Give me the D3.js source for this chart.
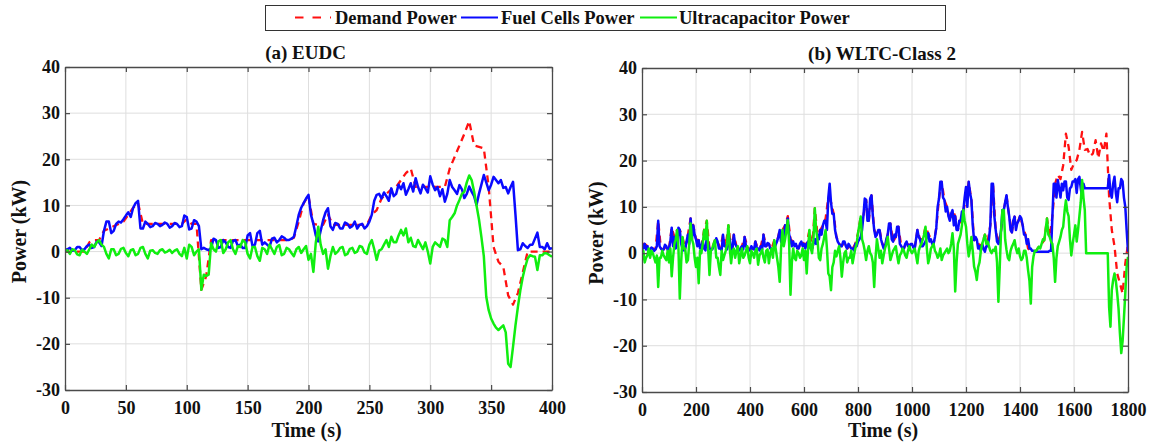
<!DOCTYPE html>
<html>
<head>
<meta charset="utf-8">
<script src="https://cdn.jsdelivr.net/npm/d3@7"></script>
<style>
  body { margin: 0; background: #fff; }
  svg text { font-family: "Liberation Serif", "Times New Roman", serif; font-weight: bold; fill: #111; }
</style>
</head>
<body>
<svg id="chart" width="1164" height="448"></svg>
<script>
// ---- Data (power in kW) -------------------------------------------------
// EUDC cycle, 0 .. 400 s
const eudcDemandStep = 4;   // s between demand samples
const eudcDemand = [
  0, 0, 0, 0, 0, 2.0, 2.5, 2.5, 4.5, 5.0,
  5.5, 6.0, 6.5, 8.0, 9.5, 10.5, 6.0, 6.0, 6.0, 6.0,
  6.0, 6.0, 6.0, 6.0, 6.0, 7.0, 6.0, 6.0, -8.3, -5.3,
  2.5, 2.5, 2.5, 2.5, 2.5, 2.5, 2.5, 2.5, 2.5, 2.5,
  2.5, 2.5, 2.5, 2.5, 2.5, 2.5, 2.5, 3.0, 6.5, 10.5,
  12.0, 6.0, 5.8, 5.8, 8.0, 5.8, 5.8, 5.8, 5.8, 5.8,
  5.8, 5.8, 5.8, 8.0, 9.0, 11.5, 12.5, 13.5, 14.0, 15.5,
  17.0, 18.0, 14.0, 14.0, 14.0, 14.0, 14.0, 14.0, 14.0, 18.0,
  20.5, 23.0, 25.5, 28.3, 23.0, 22.7, 22.4, 14.0, 1.0, -2.2,
  -3.3, -9.5, -11.5, -9.0, -4.5, 0, 0, 0, 0, 0,
  0
];
const eudcSourceStep = 2;   // s between fuel cell / ultracapacitor samples
const eudcFuelCell = [
  0.3, 0.5, 0.8, 0.2, 0.3, 1.0, 1.0, 0.3, 0.5, 1.2,
  1.5, 0.8, 1.0, 2.2, 2.0, 1.2, 4.5, 6.5, 6.5, 4.0,
  4.5, 6.0, 6.5, 6.3, 7.0, 7.8, 8.5, 7.5, 9.5, 10.5,
  11.0, 5.0, 5.0, 6.5, 6.0, 5.3, 5.5, 6.2, 6.0, 5.5,
  5.8, 6.3, 6.0, 5.2, 5.5, 6.2, 6.0, 5.3, 5.5, 7.8,
  7.5, 4.8, 5.0, 6.8, 6.5, 5.5, 0.5, 0.8, 0.5, 0.3,
  0.8, 2.8, 2.5, 0.8, 1.0, 2.5, 2.0, 1.0, 0.8, 2.3,
  2.5, 1.2, 1.5, 0.8, 0.8, 3.5, 4.0, 1.2, 1.5, 4.0,
  4.5, 1.5, 2.0, 1.5, 1.0, 2.8, 3.0, 2.0, 2.5, 3.3,
  3.0, 2.5, 2.5, 2.8, 3.2, 5.5, 8.0, 9.5, 10.5, 11.5,
  12.3, 8.0, 6.0, 3.5, 2.2, 4.5, 6.8, 8.5, 9.4, 5.5,
  4.7, 6.2, 6.0, 5.0, 5.0, 6.3, 6.0, 5.2, 5.5, 6.5,
  5.0, 5.8, 6.0, 5.0, 5.5, 6.5, 8.0, 11.0, 12.3, 12.5,
  11.5, 12.8, 12.0, 11.0, 13.7, 12.0, 12.5, 14.5, 13.5, 14.8,
  12.3, 13.5, 14.8, 13.0, 15.9, 14.0, 12.6, 14.5, 13.7, 12.8,
  16.3, 14.5, 13.3, 14.0, 12.0, 13.5, 10.8, 12.5, 15.5, 14.0,
  13.3, 12.5, 14.4, 13.5, 11.6, 12.5, 14.1, 13.0, 12.0, 10.1,
  12.5, 14.5, 16.6, 15.0, 13.3, 14.5, 16.2, 15.5, 14.8, 15.5,
  13.8, 14.0, 12.6, 14.0, 15.1, 8.0, 0.3, 0.5, 1.8, 1.2,
  0.8, 1.5, 1.5, 2.8, 4.1, 1.0, 1.0, 0.5, 1.8, 0.6,
  0.7
];
const eudcUltracap = [
  0, 0.3, -0.5, 0.5, 0.3, -0.6, -0.8, 0.4, 0, -0.5,
  0.5, 1.5, 1.0, 2.0, 2.5, 1.5, 1.0, -0.5, -1.5, 0.5,
  0.5, -0.8, -0.5, 0.6, 0.8, -0.3, -1.0, 0.3, 0.5, -0.8,
  -0.5, 0.8, 1.0, -0.5, -1.5, 0.2, 0.3, -0.3, -0.5, 0.3,
  0.5, -0.2, 0, 0.4, -0.3, 0.2, 0.5, -0.5, -1.0, 0.8,
  -1.5, 1.5, 1.0, -0.8, 0, 0.5, -8.3, -5.0, -5.3, -5.0,
  1.8, 0.5, 0, 2.2, 2.5, -0.3, 0.5, 2.0, 2.5, 0.5,
  -0.5, 1.2, 1.0, 2.5, 2.0, -0.5, -1.5, 1.0, 1.0, -1.0,
  -2.0, 0.8, 0.5, -0.5, 1.5, 0.5, -0.5, 1.0, 1.4, -0.8,
  -0.5, 0.8, 0.5, -0.3, -1.0, 0.5, 1.0, -0.3, 0.5, 1.2,
  -1.8, -0.5, -4.4, 2.0, 5.4, 1.5, -0.5, 0.5, -3.7, -1.0,
  1.0, -0.5, 0, 0.8, 1.0, -0.8, -0.5, 0.6, 0.8, -0.3,
  0, 1.2, 1.0, -0.2, -0.5, 1.5, 2.5, 0.5, -1.8, 0.2,
  0.5, 1.5, 2.5, 1.0, 3.2, 2.0, 2.0, 3.5, 4.7, 3.5,
  5.0, 2.0, 3.0, 1.2, 1.0, 2.5, 1.5, 0.5, 2.0, 0,
  -2.6, 1.0, 2.0, 1.5, 1.0, 2.8, 2.5, 1.0, 6.8, 7.5,
  8.3, 10.0, 11.2, 12.5, 13.0, 15.0, 16.5, 15.5, 13.0, 10.0,
  7.0, 3.2, -1.0, -9.8, -12.7, -14.5, -15.6, -16.5, -17.0, -16.5,
  -16.0, -17.5, -24.3, -25.0, -20.6, -16.0, -12.0, -8.4, -5.5, -3.3,
  -1.5, -0.8, -1.0, -1.1, -4.0, -0.8, -0.8, -0.3, -0.4, -0.8,
  -1.1
];

// WLTC Class 2 cycle, 0 .. 1800 s
const wltcDemandStep = 10;
const wltcDemand = [
  2.0, 2.0, 1.5, 0.8, 1.0, 0.8, 7.0, 1.0, 0.8, 1.5,
  1.0, 5.5, 3.5, 5.0, 5.0, 3.5, 1.0, 4.0, 7.5, 6.0,
  3.0, 2.8, 1.5, 5.0, 7.0, 1.0, 1.0, 2.8, 2.5, 1.0,
  4.0, 1.5, 6.0, 1.0, 4.0, 1.5, 0.6, 1.5, 3.5, 1.5,
  0.6, 1.0, 2.5, 1.0, 1.5, 4.0, 1.5, 2.0, 1.0, 2.8,
  2.5, 5.0, 5.0, 6.0, 8.0, 3.0, 2.5, 2.0, 1.0, 2.5,
  2.0, 2.0, 5.0, 1.0, 9.7, 4.0, 5.0, 6.0, 7.5, 12.0,
  11.0, 8.5, 3.5, 2.0, 1.5, 2.5, 1.0, 1.5, 1.0, 2.0,
  4.3, 7.9, 8.0, 11.5, 7.0, 12.5, 5.0, 4.0, 5.0, 2.0,
  1.5, 4.0, 6.4, 2.5, 3.5, 5.7, 1.5, 1.0, 2.5, 1.5,
  2.0, 1.0, 5.0, 3.0, 3.0, 5.7, 4.3, 3.0, 2.0, 5.5,
  11.8, 15.4, 11.5, 10.0, 7.0, 9.3, 8.0, 5.0, 7.0, 9.3,
  11.4, 15.4, 11.5, 2.8, 3.0, 1.5, 2.0, 4.0, 2.5, 6.0,
  15.0, 5.0, 2.0, 5.0, 9.3, 12.5, 8.0, 4.5, 7.9, 6.5,
  8.0, 6.0, 4.0, 1.0, 0.5, 0.5, 0.5, 1.4, 2.0, 2.8,
  7.5, 3.5, 8.0, 15.0, 16.9, 16.0, 19.0, 25.8, 23.0, 18.0,
  19.4, 20.1, 22.3, 26.2, 22.3, 22.5, 21.0, 21.5, 24.4, 20.5,
  23.7, 22.0, 25.8, 12.2, 5.0, 1.5, -4.4, -6.5, -8.7, -2.2,
  2.0
];
const wltcSourceStep = 5;
const wltcFuelCell = [
  2.0, 1.0, 2.0, 0.8, 1.5, 0.6, 0.8, 1.2, 1.0, 0.5, 0.8, 1.5, 7.0, 1.5, 1.0, 0.6, 0.8, 1.8, 1.5, 0.7,
  1.0, 2.5, 5.5, 1.5, 3.5, 1.0, 2.0, 5.5, 5.0, 2.0, 1.0, 0.6, 1.0, 2.5, 4.0, 2.0, 7.5, 3.0, 6.0, 4.0,
  3.0, 1.5, 2.8, 1.0, 1.5, 2.5, 1.0, 0.6, 3.5, 2.0, 1.0, 0.7, 0.8, 1.5, 2.0, 3.2, 2.5, 1.0, 1.0, 0.6,
  4.0, 1.5, 1.5, 0.8, 2.0, 3.0, 1.0, 0.6, 4.0, 2.0, 1.5, 0.8, 0.6, 1.0, 1.5, 0.8, 3.5, 1.5, 1.0, 0.6,
  0.6, 1.5, 1.0, 0.8, 2.5, 1.2, 1.0, 0.6, 1.5, 0.8, 4.0, 1.5, 1.5, 2.2, 2.0, 1.0, 1.0, 0.7, 1.0, 1.8,
  2.5, 3.5, 5.0, 2.5, 2.0, 3.0, 6.0, 5.0, 7.5, 4.0, 3.0, 1.5, 2.5, 1.5, 2.0, 1.0, 1.0, 2.0, 2.5, 1.5,
  2.0, 1.0, 2.0, 2.5, 1.5, 1.0, 1.0, 2.0, 3.0, 2.0, 4.0, 3.0, 5.0, 4.0, 6.0, 7.0, 7.0, 5.0, 12.0, 15.0,
  11.0, 8.5, 8.5, 5.0, 3.5, 2.5, 2.0, 1.5, 1.5, 2.5, 2.5, 1.5, 1.0, 2.0, 1.5, 1.0, 1.0, 0.6, 2.0, 1.5,
  2.5, 3.0, 3.5, 5.0, 8.0, 11.8, 11.5, 7.0, 7.0, 11.8, 12.5, 8.0, 5.0, 3.5, 4.0, 5.0, 5.0, 3.0, 2.0, 1.0,
  1.5, 3.0, 4.0, 6.4, 6.4, 3.0, 2.5, 4.0, 3.5, 5.7, 5.7, 2.0, 1.5, 1.0, 1.0, 2.0, 2.5, 1.5, 1.5, 2.0,
  2.0, 1.2, 1.0, 3.0, 5.0, 3.5, 3.0, 1.5, 1.5, 2.0, 2.5, 3.5, 4.3, 2.5, 3.0, 2.0, 2.0, 3.5, 5.5, 10.0,
  11.8, 15.4, 15.4, 12.0, 11.5, 9.0, 10.0, 8.0, 7.0, 8.5, 9.3, 6.0, 8.0, 5.0, 5.0, 7.0, 7.0, 9.0, 9.0, 12.0,
  14.3, 10.0, 15.4, 13.0, 11.5, 6.0, 2.8, 3.5, 3.0, 1.0, 1.5, 0.5, 2.0, 1.0, 0.3, 1.5, 1.5, 3.0, 6.0, 15.0,
  15.0, 8.0, 5.0, 2.5, 2.0, 3.0, 5.0, 9.3, 9.3, 11.0, 12.5, 10.0, 8.0, 5.0, 4.5, 7.0, 7.9, 5.0, 6.5, 7.0,
  8.0, 7.5, 6.0, 4.0, 4.0, 2.0, 3.0, 1.0, 1.0, 0.5, 0.5, 0.3, 0.3, 0.3, 0.3, 0.3, 0.3, 0.3, 0.3, 0.3,
  0.3, 0.3, 0.5, 0.5, 8.0, 15.0, 15.0, 12.0, 15.8, 14.0, 12.0, 15.0, 13.6, 15.5, 15.5, 12.0, 11.5, 14.0, 14.3, 15.5,
  15.5, 16.0, 13.0, 16.0, 16.5, 14.0, 12.0, 15.0, 14.0, 14.0, 14.0, 14.0, 14.0, 14.0, 14.0, 14.0, 14.0, 14.0, 14.0, 14.0,
  14.0, 14.0, 14.0, 14.0, 14.0, 14.0, 16.9, 13.0, 12.0, 15.0, 16.5, 13.0, 11.0, 14.0, 14.0, 16.0, 15.5, 12.0, 10.0, 5.0,
  0.3
];
const wltcUltracap = [
  -1.5, 0.5, -2.0, -1.0, -0.5, 1.0, -1.0, 0.5, 0, -1.0, -2.0, -0.5, -7.3, -1.0, -1.0, 0.5, -0.5, -1.0, -1.5, 0.5,
  -2.0, 1.0, -5.0, -1.0, 2.0, 3.0, 5.0, 1.0, -9.8, -2.0, 3.5, 1.0, 1.0, -2.0, -1.5, 2.0, 6.4, 3.0, 2.0, -1.0,
  -3.0, -1.0, -6.5, 0.5, 0, 2.0, 5.0, 3.0, 7.0, 1.0, -4.7, 0.5, 1.0, 2.0, 2.8, -1.0, -1.0, -3.0, -4.7, 0.5,
  -1.5, -0.5, 0.5, 2.0, 6.0, 1.0, -2.2, 0.5, 1.0, -1.0, 0.5, 1.5, -2.2, -0.5, 1.0, -1.0, -0.5, 0.5, 1.5, -1.0,
  -2.2, 0.5, 0, -1.0, 0.5, 1.0, -2.5, -0.5, 0, 0.8, -1.0, -2.0, 0.5, 0.8, -2.2, 0, 1.0, -1.0, 2.8, 1.0,
  -1.0, -3.0, -6.2, 1.0, 5.0, 1.5, 3.0, 5.0, 7.1, 2.0, -9.0, -2.0, 1.0, -1.0, -1.5, 0.5, 0, -1.0, -0.5, 1.0,
  -1.5, 0.5, -4.4, 1.0, 5.0, 1.0, 0, 3.0, 9.7, 5.0, 3.0, -1.0, -1.5, 1.0, 2.0, 3.5, 5.0, 1.0, -4.4, -5.0,
  -8.0, -3.0, -2.0, 0.5, -0.7, 0.5, 1.5, -1.0, -5.1, -2.0, 0, 0.5, -2.0, -1.0, -1.0, 0.5, -2.2, -0.5, 1.0, 2.0,
  4.3, 6.0, 7.9, 3.0, 2.0, 0.5, -1.5, 0.5, 1.5, 0, -0.5, -2.0, -7.3, -1.0, 3.0, 1.0, -1.0, 0.5, -2.2, -0.5,
  1.0, 2.0, 3.5, 1.0, -1.5, -0.5, 0.5, 1.0, 1.5, -0.5, -2.2, -0.5, 0, 1.0, 0.5, -0.5, -1.0, 0.5, 1.5, 0.5,
  0, 0.5, 1.0, -0.5, -2.2, 0.5, 1.5, 2.0, 3.0, 4.0, 5.7, 1.0, -2.2, -1.0, 1.0, 1.5, 2.0, 0.5, 0, -1.0,
  -0.5, 1.0, -1.5, -0.5, 0, 0.5, 1.0, 0, 0.5, 2.0, 4.3, 1.0, -8.3, -2.0, 2.0, 3.0, 4.0, 6.0, 9.3, 7.0,
  5.7, 2.0, -0.7, 1.0, 3.5, 0.5, -2.9, -4.0, -5.8, -3.0, -2.0, 0.5, 2.0, 3.0, 4.0, 2.0, 2.5, 1.5, 0.5, 0,
  0.7, 0.5, 1.4, -2.0, -10.5, -3.0, 5.0, 9.3, 9.3, 3.0, 0.7, -1.0, -1.5, 0.5, 1.4, 2.0, 2.8, 1.0, 0, 1.0,
  -0.7, -1.5, -1.0, 0.5, 0.5, -1.0, -3.7, -6.0, -10.9, -3.0, -0.7, 0.5, 0.5, 1.0, 1.4, 1.0, 2.0, 3.0, 2.8, 5.0,
  7.5, 4.0, 3.5, 2.5, 2.0, -1.0, -6.2, -1.0, 1.5, 2.5, 3.5, 5.0, 5.7, 9.0, 11.4, 9.0, 8.0, 3.0, -0.5, 2.0,
  4.0, 6.0, 2.5, 5.0, 8.0, 11.0, 15.8, 12.0, 9.3, 0, 0, 0, 0, 0, 0, 0, 0, 0, 0, 0,
  0, 0, 0, 0, 0, 0, -11.6, -15.9, -8.0, -5.8, -4.4, -6.0, -8.7, -12.0, -17.3, -21.6, -19.0, -14.0, -8.7, -3.0,
  -0.8
];

// Axis ticks
const eudcTicks = [0, 50, 100, 150, 200, 250, 300, 350, 400];
const wltcTicks = [0, 200, 400, 600, 800, 1000, 1200, 1400, 1600, 1800];
const powerTicks = [-30, -20, -10, 0, 10, 20, 30, 40];
const powerDomain = [-30, 40];

const seriesNames = ["Demand Power", "Fuel Cells Power", "Ultracapacitor Power"];
const panelTitles = ["(a) EUDC", "(b) WLTC-Class 2"];
const xLabel = "Time (s)";
const yLabel = "Power (kW)";

// ---- Drawing ----------------------------------------------------------
const svg = d3.select("#chart");
svg.append("rect").attr("width", 1164).attr("height", 448).attr("fill", "#fff");

const seriesStyle = [
  { color: "#ff1010", width: 2.3, dash: "7,5" },
  { color: "#0a0aff", width: 2.5, dash: null },
  { color: "#10ee10", width: 2.5, dash: null }
];
const axisColor = "#4a4a4a";
const gridColor = "#dedede";
const tickText = d => String(d);   // plain integers, ASCII hyphen for negatives

function drawPanel(p, idx) {
  const x = d3.scaleLinear().domain([0, p.xMax]).range([p.left, p.right]);
  const y = d3.scaleLinear().domain(powerDomain).range([p.bottom, p.top]);
  const g = svg.append("g");

  // grid
  g.append("g").selectAll("line").data(p.xTicks.slice(1, -1)).join("line")
    .attr("x1", d => x(d)).attr("x2", d => x(d))
    .attr("y1", p.top).attr("y2", p.bottom)
    .attr("stroke", gridColor).attr("stroke-width", 1);
  g.append("g").selectAll("line").data(powerTicks.slice(1, -1)).join("line")
    .attr("x1", p.left).attr("x2", p.right)
    .attr("y1", d => y(d)).attr("y2", d => y(d))
    .attr("stroke", gridColor).attr("stroke-width", 1);

  // series: demand (dashed) underneath, then fuel cell, then ultracapacitor
  const clipId = "clip" + idx;
  svg.append("clipPath").attr("id", clipId).append("rect")
    .attr("x", p.left).attr("y", p.top)
    .attr("width", p.right - p.left).attr("height", p.bottom - p.top);
  const lines = g.append("g").attr("clip-path", `url(#${clipId})`);
  p.series.forEach((s, k) => {
    const st = seriesStyle[k];
    const line = d3.line().x((d, i) => x(i * s.step)).y(d => y(d));
    lines.append("path").datum(s.values)
      .attr("d", line)
      .attr("fill", "none")
      .attr("stroke", st.color)
      .attr("stroke-width", st.width)
      .attr("stroke-linejoin", "round")
      .attr("stroke-dasharray", st.dash);
  });

  // axes (ticks pointing inward on all four sides)
  const styleAxis = sel => {
    sel.select(".domain").attr("stroke", axisColor).attr("stroke-width", 1.3);
    sel.selectAll(".tick line").attr("stroke", axisColor).attr("stroke-width", 1.2);
    sel.selectAll("text").attr("font-family", null).attr("font-size", 18).attr("fill", "#111");
  };
  g.append("g").attr("transform", `translate(0,${p.bottom})`)
    .call(d3.axisBottom(x).tickValues(p.xTicks).tickFormat(tickText).tickSize(-5).tickPadding(11).tickSizeOuter(0))
    .call(styleAxis);
  g.append("g").attr("transform", `translate(0,${p.top})`)
    .call(d3.axisTop(x).tickValues(p.xTicks).tickSize(-5).tickFormat("").tickSizeOuter(0))
    .call(styleAxis);
  g.append("g").attr("transform", `translate(${p.left},0)`)
    .call(d3.axisLeft(y).tickValues(powerTicks).tickFormat(tickText).tickSize(-5).tickPadding(5).tickSizeOuter(0))
    .call(styleAxis);
  g.append("g").attr("transform", `translate(${p.right},0)`)
    .call(d3.axisRight(y).tickValues(powerTicks).tickSize(-5).tickFormat("").tickSizeOuter(0))
    .call(styleAxis);

  // titles and axis labels
  const mid = (p.left + p.right) / 2;
  g.append("text").attr("x", mid - 3).attr("y", p.top - 8)
    .attr("text-anchor", "middle").attr("font-size", 19).text(p.title);
  g.append("text").attr("x", mid - 2).attr("y", 437)
    .attr("text-anchor", "middle").attr("font-size", 20).text(xLabel);
  g.append("text")
    .attr("transform", `translate(${p.left - 39},${(p.top + p.bottom) / 2 + 3}) rotate(-90)`)
    .attr("text-anchor", "middle").attr("font-size", 20).text(yLabel);
}

drawPanel({
  left: 65, right: 552, top: 67, bottom: 390,
  xMax: 400, xTicks: eudcTicks, title: panelTitles[0],
  series: [
    { values: eudcDemand, step: eudcDemandStep },
    { values: eudcFuelCell, step: eudcSourceStep },
    { values: eudcUltracap, step: eudcSourceStep }
  ]
}, 0);
drawPanel({
  left: 642, right: 1128, top: 68, bottom: 392,
  xMax: 1800, xTicks: wltcTicks, title: panelTitles[1],
  series: [
    { values: wltcDemand, step: wltcDemandStep },
    { values: wltcFuelCell, step: wltcSourceStep },
    { values: wltcUltracap, step: wltcSourceStep }
  ]
}, 1);

// ---- Legend -----------------------------------------------------------
const legend = svg.append("g");
legend.append("rect").attr("x", 265.5).attr("y", 5.5).attr("width", 680).attr("height", 25)
  .attr("fill", "#fff").attr("stroke", "#333").attr("stroke-width", 1);
const legendItems = [
  { x1: 295, x2: 331, tx: 335 },
  { x1: 461, x2: 498, tx: 501 },
  { x1: 640, x2: 677, tx: 679 }
];
legendItems.forEach((it, k) => {
  const s = seriesStyle[k];
  legend.append("line").attr("x1", it.x1).attr("x2", it.x2).attr("y1", 17.5).attr("y2", 17.5)
    .attr("stroke", s.color).attr("stroke-width", 2).attr("stroke-dasharray", s.dash ? "8.5,9" : null);
  legend.append("text").attr("x", it.tx).attr("y", 24).attr("font-size", 18.5).text(seriesNames[k]);
});
</script>
</body>
</html>
